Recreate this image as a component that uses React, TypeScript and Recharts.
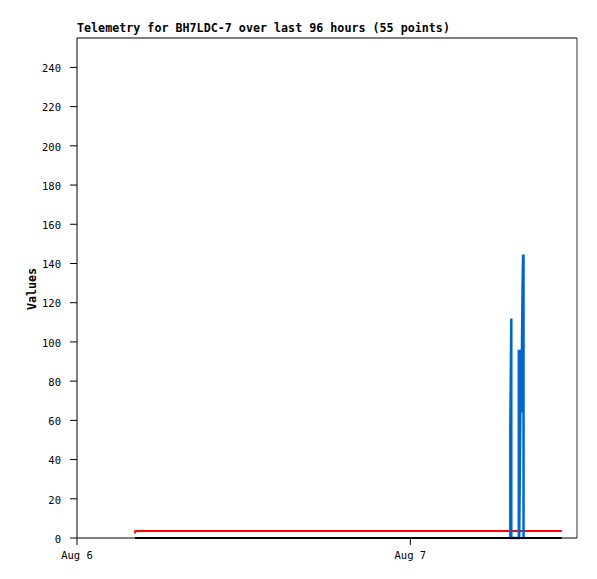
import React from 'react';
import { LineChart, Line, XAxis, YAxis, ReferenceLine } from 'recharts';

const titleText = 'Telemetry for BH7LDC-7 over last 96 hours (55 points)';
const yAxisTitle = 'Values';
const xTicks = [0, 24];
const xTickLabels = ['Aug 6', 'Aug 7'];
const yTicks = [0, 20, 40, 60, 80, 100, 120, 140, 160, 180, 200, 220, 240];
const xMax = 36;
const yMax = 255;

// hours since Aug 6 00:00
const redTimes = [4.18, 4.2, 34.9];
const redValues = [2.3, 3.6, 3.6];
const blackTimes = [4.18, 34.9];
const blackValues = [0, 0];
const blueTimes = [31.2, 31.2, 31.27, 31.27, 31.81, 31.81, 31.84, 31.84, 31.96, 31.99, 32.08, 32.12, 32.15, 32.15];
const blueValues = [0, 56, 112, 0, 0, 96, 32, 0, 96, 64, 128, 144, 144, 0];

const toRows = (ts: number[], vs: number[]) => ts.map((t, i) => ({ t, v: vs[i] }));
const redData = toRows(redTimes, redValues);
const blackData = toRows(blackTimes, blackValues);
const blueData = toRows(blueTimes, blueValues);

const mono = '"DejaVu Sans Mono", monospace';

export default function App() {
  return (
    <div style={{ position: 'absolute', left: 0, top: 0, width: 597, height: 579, background: '#fff' }}>
      <LineChart
        width={597}
        height={579}
        margin={{ top: 38, right: 20, bottom: 11, left: 17 }}
      >
        <XAxis
          type="number"
          dataKey="t"
          domain={[0, xMax]}
          ticks={xTicks}
          tickFormatter={(v: number) => xTickLabels[xTicks.indexOf(v)]}
          tickSize={7}
          tickMargin={7}
          height={30}
          stroke="#000"
          tick={{ fill: '#000', fontSize: 10.5, fontFamily: mono }}
          allowDuplicatedCategory={false}
        />
        <YAxis
          type="number"
          domain={[0, yMax]}
          ticks={yTicks}
          width={60}
          tickSize={7}
          tickMargin={9}
          stroke="#000"
          tick={{ fill: '#000', fontSize: 10.5, fontFamily: mono, dy: 1 }}
        />
        <ReferenceLine y={yMax} stroke="#000" />
        <ReferenceLine x={xMax} stroke="#333" />
        <Line data={redData} dataKey="v" stroke="#ff0000" strokeWidth={2} dot={false} isAnimationActive={false} />
        <Line data={blueData} dataKey="v" stroke="#0066cc" strokeWidth={2.5} dot={false} isAnimationActive={false} strokeLinejoin="miter" />
        <Line data={blackData} dataKey="v" stroke="#000" strokeWidth={2} dot={false} isAnimationActive={false} />
      </LineChart>
      <div
        style={{
          position: 'absolute',
          left: 77,
          top: 22,
          fontFamily: mono,
          fontWeight: 'bold',
          fontSize: 11.7,
          lineHeight: '12px',
          whiteSpace: 'nowrap',
          color: '#000',
        }}
      >
        {titleText}
      </div>
      <div
        style={{
          position: 'absolute',
          left: 32,
          top: 289,
          transform: 'translate(-50%, -50%) rotate(-90deg)',
          fontFamily: mono,
          fontWeight: 'bold',
          fontSize: 11.7,
          whiteSpace: 'nowrap',
          color: '#000',
        }}
      >
        {yAxisTitle}
      </div>
    </div>
  );
}
